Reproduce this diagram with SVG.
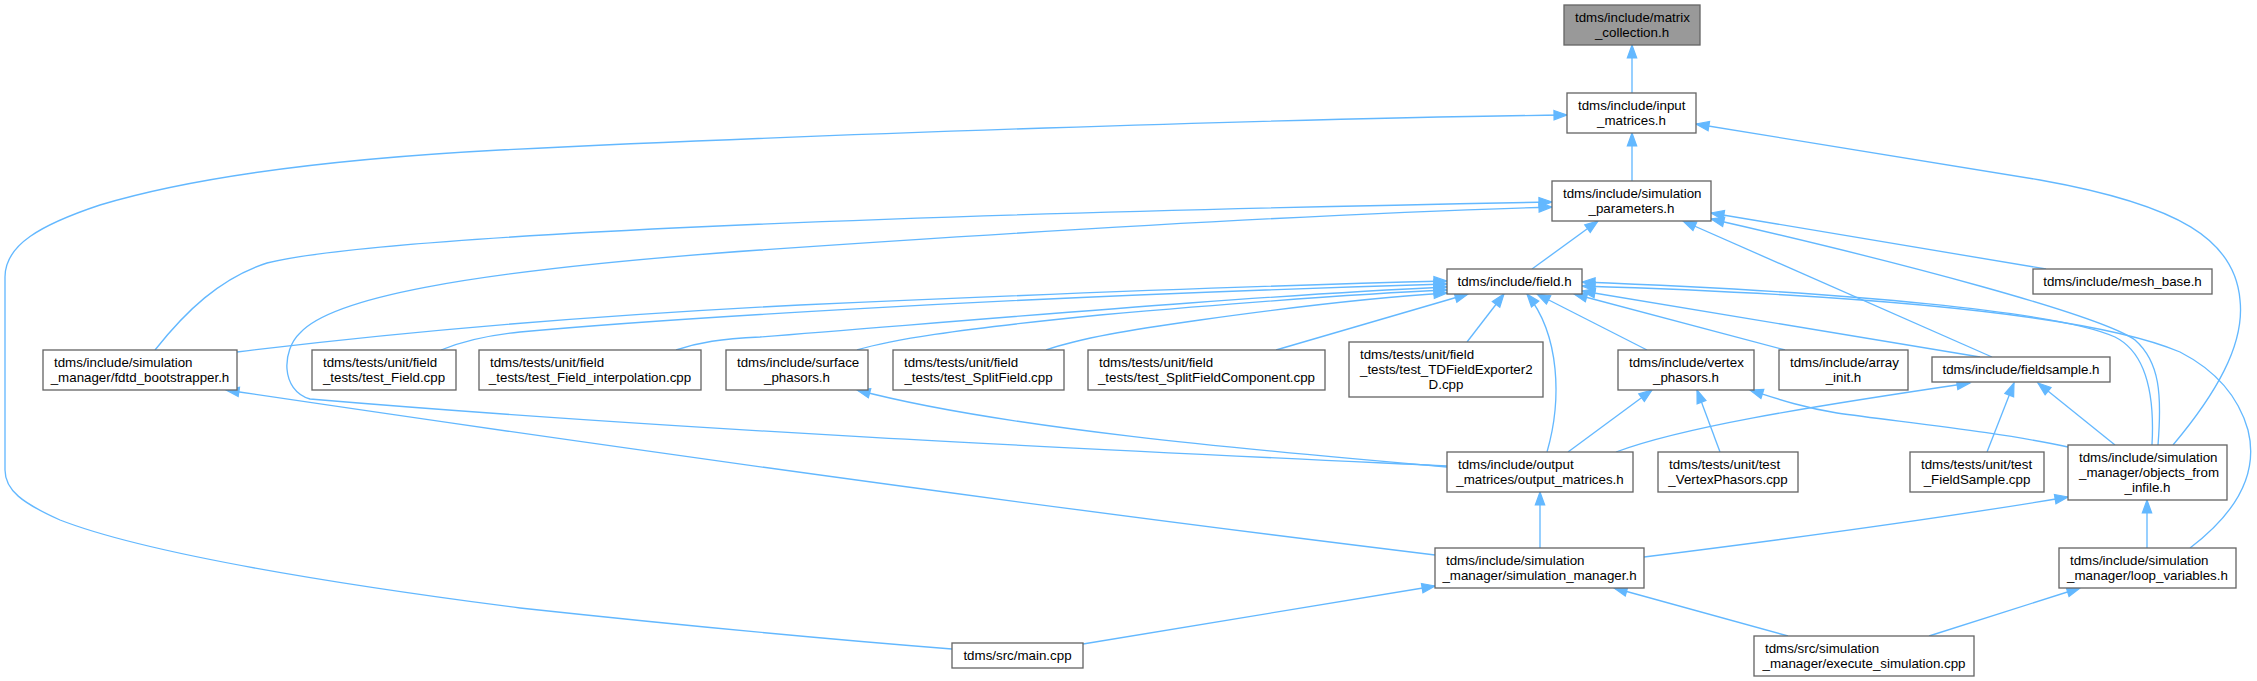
<svg xmlns="http://www.w3.org/2000/svg" width="2257" height="681" viewBox="0 0 2257 681">
<style>
.n rect{fill:#fff;stroke:#666;stroke-width:1.33}
.n.g rect{fill:#999}
text{font-family:"Liberation Sans",Arial,Helvetica,sans-serif;font-size:13.33px;fill:#000}
.c{text-anchor:middle}
.e path{fill:none;stroke:#63b8ff;stroke-width:1.33;marker-end:url(#ah)}
</style>
<defs>
<marker id="ah" markerWidth="16" markerHeight="12" refX="13" refY="5" orient="auto" markerUnits="userSpaceOnUse" overflow="visible">
<path d="M0,0.3 L13,5 L0,9.7 Z" fill="#63b8ff" stroke="#63b8ff" stroke-width="1.2"/>
</marker>
</defs>
<rect width="2257" height="681" fill="#fff"/>
<g id="edges" class="e">
<path d="M1632,93 L1632,45"/>
<path d="M1632,181 L1632,133"/>
<path d="M952,649 C800,637 650,622 520,608 C350,586 150,555 60,520 C22,503 5,490 5,470 L5,277 C5,245 40,225 100,205 C200,175 350,158 500,150 C800,135 1300,118 1567,115"/>
<path d="M2173,445 C2215,395 2245,345 2240,300 C2235,240 2180,205 2040,180 L1696,124"/>
<path d="M1532,269 L1598,221"/>
<path d="M155,350 C185,312 220,278 267,263 C380,235 900,214 1552,202"/>
<path d="M1447,466 C1150,452 700,432 310,399 C280,390 282,350 300,333 C330,300 450,272 760,250 C1050,230 1350,213 1552,207"/>
<path d="M2046,269 L1711,213"/>
<path d="M1992,357 L1683,221"/>
<path d="M2158,445 C2162,395 2160,362 2135,340 C2100,315 1900,262 1711,219"/>
<path d="M2152,445 C2155,390 2145,352 2115,337 C2060,312 1850,292 1582,282"/>
<path d="M2190,548 C2240,510 2258,470 2248,430 C2238,395 2215,370 2180,352 C2100,318 1900,296 1582,286"/>
<path d="M1980,357 L1582,291"/>
<path d="M1785,350 L1574,294"/>
<path d="M1647,350 L1537,294"/>
<path d="M1547,452 C1562,400 1560,335 1527,294"/>
<path d="M1467,342 L1504,294"/>
<path d="M1276,350 L1468,294"/>
<path d="M1046,350 C1080,338 1130,330 1200,320 C1300,306 1380,297 1447,293"/>
<path d="M857,350 C890,340 950,330 1100,315 C1250,302 1350,294 1447,290"/>
<path d="M676,350 C700,342 720,339 760,337 C1000,318 1250,296 1447,287"/>
<path d="M441,350 C465,340 490,335 520,332 C650,320 1000,297 1447,284"/>
<path d="M237,352 C400,332 600,315 800,305 C1000,296 1250,286 1447,281"/>
<path d="M1568,452 L1652,390"/>
<path d="M1720,452 L1697,390"/>
<path d="M2068,447 C2000,432 1900,422 1837,413 C1800,407 1775,398 1750,390"/>
<path d="M1616,452 C1680,428 1800,408 1970,383"/>
<path d="M1987,452 L2014,383"/>
<path d="M2115,445 L2038,383"/>
<path d="M1540,548 L1540,492"/>
<path d="M1644,557 C1780,540 1930,520 2068,497"/>
<path d="M1435,555 Q900,490 226,390"/>
<path d="M1083,644 L1435,586"/>
<path d="M1788,636 L1614,588"/>
<path d="M1929,636 L2080,588"/>
<path d="M2147,548 L2147,500"/>
<path d="M1447,467 C1250,450 1000,428 857,390"/>
</g>
<g id="matrix_collection" class="n g"><rect x="1564" y="5" width="136" height="40"/><text x="1575" y="21.5">tdms/include/matrix</text><text class="c" x="1632" y="36.5">_collection.h</text></g>
<g id="input_matrices" class="n"><rect x="1567" y="93" width="129" height="40"/><text x="1578" y="109.5">tdms/include/input</text><text class="c" x="1631.5" y="124.5">_matrices.h</text></g>
<g id="simulation_parameters" class="n"><rect x="1552" y="181" width="159" height="40"/><text x="1563" y="197.5">tdms/include/simulation</text><text class="c" x="1631.5" y="212.5">_parameters.h</text></g>
<g id="field" class="n"><rect x="1447" y="269" width="135" height="25"/><text class="c" x="1514.5" y="286">tdms/include/field.h</text></g>
<g id="mesh_base" class="n"><rect x="2033" y="269" width="179" height="25"/><text class="c" x="2122.5" y="286">tdms/include/mesh_base.h</text></g>
<g id="fdtd_bootstrapper" class="n"><rect x="43" y="350" width="194" height="40"/><text x="54" y="366.5">tdms/include/simulation</text><text class="c" x="140" y="381.5">_manager/fdtd_bootstrapper.h</text></g>
<g id="test_Field" class="n"><rect x="312" y="350" width="144" height="40"/><text x="323" y="366.5">tdms/tests/unit/field</text><text class="c" x="384" y="381.5">_tests/test_Field.cpp</text></g>
<g id="test_Field_interpolation" class="n"><rect x="479" y="350" width="222" height="40"/><text x="490" y="366.5">tdms/tests/unit/field</text><text class="c" x="590" y="381.5">_tests/test_Field_interpolation.cpp</text></g>
<g id="surface_phasors" class="n"><rect x="726" y="350" width="142" height="40"/><text x="737" y="366.5">tdms/include/surface</text><text class="c" x="797" y="381.5">_phasors.h</text></g>
<g id="test_SplitField" class="n"><rect x="893" y="350" width="171" height="40"/><text x="904" y="366.5">tdms/tests/unit/field</text><text class="c" x="978.5" y="381.5">_tests/test_SplitField.cpp</text></g>
<g id="test_SplitFieldComponent" class="n"><rect x="1088" y="350" width="237" height="40"/><text x="1099" y="366.5">tdms/tests/unit/field</text><text class="c" x="1206.5" y="381.5">_tests/test_SplitFieldComponent.cpp</text></g>
<g id="test_TDFieldExporter2D" class="n"><rect x="1349" y="342" width="194" height="55"/><text x="1360" y="358.5">tdms/tests/unit/field</text><text x="1360" y="373.5">_tests/test_TDFieldExporter2</text><text class="c" x="1446" y="388.5">D.cpp</text></g>
<g id="vertex_phasors" class="n"><rect x="1618" y="350" width="136" height="40"/><text x="1629" y="366.5">tdms/include/vertex</text><text class="c" x="1686" y="381.5">_phasors.h</text></g>
<g id="array_init" class="n"><rect x="1779" y="350" width="129" height="40"/><text x="1790" y="366.5">tdms/include/array</text><text class="c" x="1843.5" y="381.5">_init.h</text></g>
<g id="fieldsample" class="n"><rect x="1932" y="357" width="178" height="25"/><text class="c" x="2021" y="374">tdms/include/fieldsample.h</text></g>
<g id="output_matrices" class="n"><rect x="1447" y="452" width="186" height="40"/><text x="1458" y="468.5">tdms/include/output</text><text class="c" x="1540" y="483.5">_matrices/output_matrices.h</text></g>
<g id="test_VertexPhasors" class="n"><rect x="1658" y="452" width="140" height="40"/><text x="1669" y="468.5">tdms/tests/unit/test</text><text class="c" x="1728" y="483.5">_VertexPhasors.cpp</text></g>
<g id="test_FieldSample" class="n"><rect x="1910" y="452" width="134" height="40"/><text x="1921" y="468.5">tdms/tests/unit/test</text><text class="c" x="1977" y="483.5">_FieldSample.cpp</text></g>
<g id="objects_from_infile" class="n"><rect x="2068" y="445" width="159" height="55"/><text x="2079" y="461.5">tdms/include/simulation</text><text x="2079" y="476.5">_manager/objects_from</text><text class="c" x="2147.5" y="491.5">_infile.h</text></g>
<g id="simulation_manager" class="n"><rect x="1435" y="548" width="209" height="40"/><text x="1446" y="564.5">tdms/include/simulation</text><text class="c" x="1539.5" y="579.5">_manager/simulation_manager.h</text></g>
<g id="loop_variables" class="n"><rect x="2059" y="548" width="177" height="40"/><text x="2070" y="564.5">tdms/include/simulation</text><text class="c" x="2147.5" y="579.5">_manager/loop_variables.h</text></g>
<g id="main" class="n"><rect x="952" y="643" width="131" height="25"/><text class="c" x="1017.5" y="660">tdms/src/main.cpp</text></g>
<g id="execute_simulation" class="n"><rect x="1754" y="636" width="220" height="40"/><text x="1765" y="652.5">tdms/src/simulation</text><text class="c" x="1864" y="667.5">_manager/execute_simulation.cpp</text></g>
</svg>
